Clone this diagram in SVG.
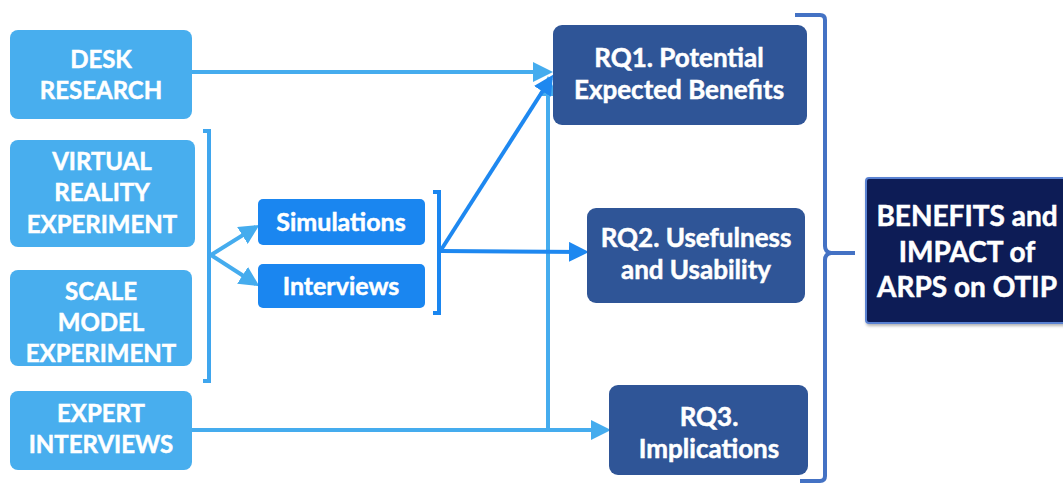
<svg xmlns="http://www.w3.org/2000/svg" width="1063" height="486" viewBox="0 0 1063 486">
  <style>
    .src { fill: #48aeee; }
    .mid { fill: #1a86f0; }
    .rq { fill: #2f5597; }
    .t { font-family: Lato, "Liberation Sans", sans-serif; font-weight: bold; fill: #ffffff; text-anchor: middle; stroke: #ffffff; stroke-width: 0.5; }
    .t24 { font-size: 24px; }
    .t25 { font-size: 25px; }
    .t26 { font-size: 26px; }
    .t28 { font-size: 28px; }
    .lineLight { stroke: #45acee; stroke-width: 4; fill: none; }
    .lineMid { stroke: #1e88f0; stroke-width: 4; fill: none; }
    .brLight { stroke: #3fa6ee; stroke-width: 4; fill: none; }
    .brMid { stroke: #1a86f0; stroke-width: 4; fill: none; }
    .brDark { stroke: #4472c4; stroke-width: 4; fill: none; }
  </style>
  <defs>
    <marker id="ahLight" markerWidth="5" markerHeight="5" refX="4" refY="2.5" orient="auto" markerUnits="strokeWidth">
      <path d="M0,0 L5,2.5 L0,5 z" fill="#45acee"/>
    </marker>
    <marker id="ahMid" markerWidth="5" markerHeight="5" refX="4" refY="2.5" orient="auto" markerUnits="strokeWidth">
      <path d="M0,0 L5,2.5 L0,5 z" fill="#1e88f0"/>
    </marker>
    <filter id="shadow" x="-10%" y="-10%" width="130%" height="130%">
      <feDropShadow dx="1" dy="2" stdDeviation="1.5" flood-color="#000000" flood-opacity="0.3"/>
    </filter>
  </defs>

  <!-- connectors -->
  <g id="connectors">
    <!-- desk research to RQ1 -->
    <line class="lineLight" x1="192" y1="72" x2="549" y2="72" marker-end="url(#ahLight)"/>
    <!-- expert interviews to RQ3 -->
    <line class="lineLight" x1="192" y1="430" x2="607" y2="430" marker-end="url(#ahLight)"/>
    <!-- vertical riser from expert line up to RQ1 -->
    <line class="lineLight" x1="548" y1="430" x2="548" y2="80" marker-end="url(#ahLight)"/>
    <!-- bracket around the two experiments -->
    <path class="brLight" d="M203,131 L209,131 L209,381 L203,381"/>
    <!-- fan out to simulations / interviews -->
    <line class="lineLight" x1="211" y1="255" x2="256" y2="227" marker-end="url(#ahLight)"/>
    <line class="lineLight" x1="211" y1="255" x2="256" y2="284" marker-end="url(#ahLight)"/>
    <!-- bracket around simulations / interviews -->
    <path class="brMid" d="M433,192 L439,192 L439,313 L433,313"/>
    <!-- to RQ1 and RQ2 -->
    <line class="lineMid" x1="441" y1="250" x2="551" y2="78" marker-end="url(#ahMid)"/>
    <line class="lineMid" x1="441" y1="251" x2="585" y2="252" marker-end="url(#ahMid)"/>
    <!-- large bracket gathering the research questions -->
    <path class="brDark" d="M795,15 L820,15 Q825,15 825,20 L825,246 Q825,252 831,253 L855,253 M831,253 Q825,254 825,260 L825,476 Q825,481 820,481 L800,481"/>
  </g>

  <g id="desk-research">
    <rect class="src" x="10" y="30" width="182" height="89" rx="8"/>
    <text class="t t24" x="101" y="68">DESK</text>
    <text class="t t24" x="101" y="99">RESEARCH</text>
  </g>

  <g id="vr-experiment">
    <rect class="src" x="10" y="140" width="185" height="107" rx="8"/>
    <text class="t t24" x="102" y="170">VIRTUAL</text>
    <text class="t t24" x="102" y="201">REALITY</text>
    <text class="t t24" x="102" y="233">EXPERIMENT</text>
  </g>

  <g id="scale-model-experiment">
    <rect class="src" x="10" y="270" width="182" height="96" rx="8"/>
    <text class="t t24" x="101" y="300">SCALE</text>
    <text class="t t24" x="101" y="331">MODEL</text>
    <text class="t t24" x="101" y="362">EXPERIMENT</text>
  </g>

  <g id="expert-interviews">
    <rect class="src" x="10" y="391" width="182" height="79" rx="8"/>
    <text class="t t24" x="101" y="422">EXPERT</text>
    <text class="t t24" x="101" y="453">INTERVIEWS</text>
  </g>

  <g id="simulations">
    <rect class="mid" x="258" y="199" width="167" height="46" rx="5"/>
    <text class="t t25" x="341" y="231">Simulations</text>
  </g>

  <g id="interviews">
    <rect class="mid" x="258" y="264" width="167" height="44" rx="5"/>
    <text class="t t25" x="341" y="295">Interviews</text>
  </g>

  <g id="rq1">
    <rect class="rq" x="553" y="25" width="254" height="100" rx="9"/>
    <text class="t t26" x="679" y="67">RQ1. Potential</text>
    <text class="t t26" x="679" y="99">Expected Benefits</text>
  </g>

  <g id="rq2">
    <rect class="rq" x="587" y="208" width="218" height="95" rx="9"/>
    <text class="t t26" x="696" y="247">RQ2. Usefulness</text>
    <text class="t t26" x="696" y="279">and Usability</text>
  </g>

  <g id="rq3">
    <rect class="rq" x="609" y="385" width="199" height="90" rx="9"/>
    <text class="t t26" x="709" y="426">RQ3.</text>
    <text class="t t26" x="709" y="458">Implications</text>
  </g>

  <g id="benefits-impact">
    <rect x="866" y="178" width="200" height="145" rx="3" fill="#0b1c57" stroke="#5a82d2" stroke-width="2" filter="url(#shadow)"/>
    <text class="t t28" x="967" y="226">BENEFITS and</text>
    <text class="t t28" x="967" y="262">IMPACT of</text>
    <text class="t t28" x="967" y="297">ARPS on OTIP</text>
  </g>
</svg>
